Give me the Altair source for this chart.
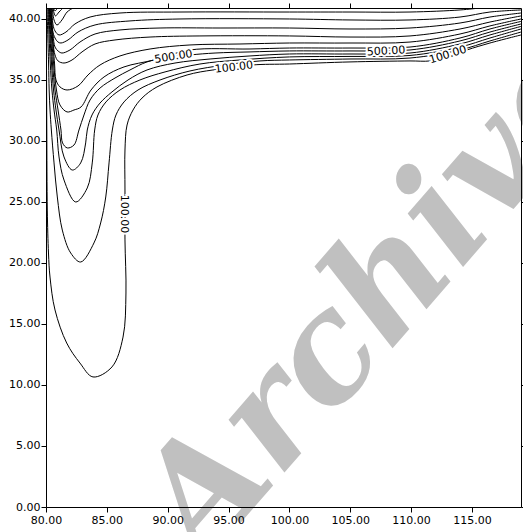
import altair as alt
import pandas as pd

# ---- contour polylines (data coordinates) ----
C0_X = [80.016, 80.04, 80.066, 80.107, 80.205, 80.329, 80.74, 81.70, 82.79, 83.86, 85.42, 86.33, 86.57, 86.49, 86.49, 86.49, 86.66, 87.15, 87.89, 89.12, 91.59, 93.72, 95.53, 97.01, 100.0, 104.98, 109.91, 111.55, 113.03, 114.59, 116.48, 119.03]
C0_Y = [40.9, 36.39, 30.9, 24.34, 20.82, 18.85, 16.15, 13.44, 11.80, 10.66, 11.48, 13.93, 17.54, 21.89, 25.98, 29.26, 31.31, 32.54, 33.52, 34.43, 35.41, 35.82, 35.98, 36.23, 36.31, 36.48, 36.56, 36.56, 36.89, 37.46, 38.03, 38.69]

C1_X = [80.08, 80.21, 80.26, 80.33, 80.44, 80.66, 80.93, 81.34, 82.03, 82.85, 83.94, 84.49, 84.91, 85.18, 85.45, 85.75, 86.41, 87.56, 89.37, 91.83, 94.71, 97.58, 100.0, 104.98, 109.91, 114.02, 116.48, 119.03]
C1_Y = [40.9, 36.39, 34.18, 32.54, 30.9, 28.2, 25.41, 22.70, 20.82, 20.08, 21.64, 23.28, 25.41, 28.2, 30.9, 32.13, 33.2, 34.18, 35.0, 35.74, 36.23, 36.56, 36.64, 36.72, 36.80, 37.46, 38.20, 38.93]

C2_X = [80.16, 80.35, 80.49, 80.66, 80.88, 81.07, 81.48, 82.44, 83.39, 83.80, 84.0, 84.27, 84.93, 86.08, 87.72, 89.78, 92.65, 95.94, 100.0, 104.98, 109.91, 114.02, 116.48, 119.03]
C2_Y = [40.9, 36.39, 34.18, 32.54, 30.9, 28.69, 26.8, 25.0, 26.15, 28.2, 30.9, 32.13, 33.2, 34.18, 35.0, 35.66, 36.31, 36.64, 36.89, 36.93, 37.01, 37.70, 38.44, 39.18]

C3_X = [80.21, 80.45, 80.62, 80.82, 81.07, 81.48, 82.16, 82.85, 83.26, 83.39, 83.78, 84.44, 85.42, 86.74, 88.30, 90.60, 93.48, 96.76, 100.0, 104.98, 109.91, 114.02, 116.48, 119.03]
C3_Y = [40.9, 36.39, 34.18, 32.54, 30.9, 28.69, 27.62, 28.2, 29.84, 30.9, 32.13, 33.11, 34.02, 35.0, 35.82, 36.39, 36.72, 36.97, 37.13, 37.13, 37.21, 37.95, 38.69, 39.39]

C4_X = [80.25, 80.53, 80.74, 80.99, 81.23, 81.36, 81.75, 82.30, 82.71, 83.12, 83.62, 84.44, 85.67, 86.90, 88.30, 89.78, 91.83, 93.89, 96.76, 100.0, 104.98, 109.91, 114.02, 116.48, 119.03]
C4_Y = [40.9, 36.39, 34.18, 32.54, 30.9, 29.84, 29.43, 29.67, 30.9, 32.13, 33.36, 34.34, 35.16, 35.82, 36.48, 36.80, 37.05, 37.21, 37.30, 37.38, 37.38, 37.46, 38.20, 38.93, 39.59]

C5_X = [80.28, 80.62, 80.86, 81.15, 81.73, 82.30, 82.88, 83.70, 84.77, 86.41, 88.87, 91.83, 96.76, 100.0, 104.98, 109.91, 114.02, 116.48, 119.03]
C5_Y = [40.9, 36.39, 34.18, 32.95, 32.38, 32.54, 32.79, 34.18, 35.25, 36.07, 36.64, 37.46, 37.54, 37.62, 37.62, 37.70, 38.44, 39.18, 39.80]

C6_X = [80.31, 80.70, 80.82, 81.15, 81.73, 82.63, 83.45, 84.44, 86.08, 88.55, 91.83, 95.94, 100.0, 104.98, 109.91, 114.02, 116.48, 119.03]
C6_Y = [40.9, 36.39, 35.0, 34.43, 34.18, 34.51, 35.41, 36.23, 36.97, 37.54, 37.87, 37.95, 38.03, 38.03, 38.11, 38.77, 39.43, 40.0]

C7_X = [80.35, 80.58, 80.74, 80.99, 81.48, 82.14, 82.96, 84.03, 85.67, 88.55, 92.65, 100.0, 104.98, 109.91, 114.02, 116.48, 119.03]
C7_Y = [40.9, 38.03, 37.05, 36.56, 36.39, 36.64, 37.30, 37.95, 38.28, 38.52, 38.61, 38.61, 38.52, 38.61, 39.18, 39.75, 40.25]

C8_X = [80.39, 80.58, 80.74, 80.99, 81.31, 81.97, 82.79, 84.03, 86.08, 89.37, 94.30, 100.0, 104.98, 109.91, 114.02, 116.48, 119.03]
C8_Y = [40.9, 38.69, 37.70, 37.38, 37.21, 37.46, 38.11, 38.77, 39.10, 39.26, 39.26, 39.26, 39.18, 39.26, 39.67, 40.16, 40.49]

C9_X = [80.43, 80.53, 80.74, 80.99, 81.23, 81.81, 82.63, 84.03, 86.90, 91.01, 100.0, 104.98, 109.91, 114.02, 116.48, 119.03]
C9_Y = [40.9, 39.10, 38.44, 38.11, 38.03, 38.28, 38.93, 39.51, 39.84, 40.0, 40.0, 39.92, 39.92, 40.16, 40.57, 40.74]

C10_X = [80.47, 80.58, 80.74, 81.07, 81.64, 82.38, 83.62, 86.08, 91.01, 100.0, 104.98, 109.91, 114.02, 115.66]
C10_Y = [40.9, 39.51, 39.02, 38.69, 38.93, 39.59, 40.16, 40.49, 40.57, 40.57, 40.57, 40.57, 40.74, 40.9]

T0_X = [80.52, 80.66, 80.90, 81.31, 81.73, 82.22]
T0_Y = [40.9, 39.92, 39.51, 39.92, 40.57, 40.9]

T1_X = [80.58, 80.66, 80.78, 81.07, 81.40]
T1_Y = [40.9, 40.49, 40.25, 40.57, 40.9]

T2_X = [80.62, 80.74, 80.95]
T2_Y = [40.9, 40.66, 40.9]

CURVES = [(C0_X, C0_Y), (C1_X, C1_Y), (C2_X, C2_Y), (C3_X, C3_Y), (C4_X, C4_Y),
          (C5_X, C5_Y), (C6_X, C6_Y), (C7_X, C7_Y), (C8_X, C8_Y), (C9_X, C9_Y),
          (C10_X, C10_Y), (T0_X, T0_Y), (T1_X, T1_Y), (T2_X, T2_Y)]

# contour labels
LABEL_TEXT = ["500.00", "100.00", "500.00", "100.00", "100.00"]
LABEL_X = [90.48, 95.45, 107.94, 113.03, 86.37]
LABEL_Y = [36.89, 36.02, 37.34, 37.05, 24.02]
LABEL_ANGLE = [351, 353, 357, 343, 90]

X_TICKS = [80, 85, 90, 95, 100, 105, 110, 115]
Y_TICKS = [0, 5, 10, 15, 20, 25, 30, 35, 40]
X_DOMAIN = [80, 119.03]
Y_DOMAIN = [0, 40.9]

rows = []
for cid, (xs, ys) in enumerate(CURVES):
    for i, (x, y) in enumerate(zip(xs, ys)):
        rows.append({"curve": cid, "i": i, "x": x, "y": y})
df = pd.DataFrame(rows)

labels = pd.DataFrame({"text": LABEL_TEXT, "x": LABEL_X, "y": LABEL_Y, "angle": LABEL_ANGLE})

xscale = alt.Scale(domain=X_DOMAIN, nice=False, zero=False)
yscale = alt.Scale(domain=Y_DOMAIN, nice=False, zero=False)

axis_common = dict(grid=False, title=None, domainColor="black", tickColor="black",
                   tickSize=5, labelColor="black", labelFont="DejaVu Sans",
                   labelFontSize=11, format=".2f", zindex=1, domainWidth=1,
                   tickWidth=1, labelFlush=False, labelOverlap=False)

wm = alt.Chart(pd.DataFrame({"t": ["Archive"]})).mark_text(
    font="DejaVu Serif",
    fontWeight="bold", fontStyle="italic", fontSize=148,
    color="#c0c0c0", angle=311, align="center", baseline="middle"
).encode(text="t:N", x=alt.value(330), y=alt.value(292))

lines = alt.Chart(df).mark_line(color="black", strokeWidth=1, clip=True,
                                interpolate="catmull-rom").encode(
    x=alt.X("x:Q", scale=xscale,
            axis=alt.Axis(values=X_TICKS, labelPadding=2, **axis_common)),
    y=alt.Y("y:Q", scale=yscale,
            axis=alt.Axis(values=Y_TICKS, labelPadding=1, **axis_common)),
    detail="curve:N",
    order="i:Q",
)

frame = alt.Chart(df).mark_point(opacity=0).encode(
    x=alt.X("x:Q", scale=xscale,
            axis=alt.Axis(orient="top", values=X_TICKS, labels=False, **axis_common)),
    y=alt.Y("y:Q", scale=yscale,
            axis=alt.Axis(orient="right", values=Y_TICKS, labels=False, **axis_common)),
)

halo = alt.Chart(labels).mark_text(
    font="DejaVu Sans", fontSize=11, color="white", stroke="white", strokeWidth=4
).encode(x=alt.X("x:Q", scale=xscale, axis=None),
         y=alt.Y("y:Q", scale=yscale, axis=None),
         text="text:N", angle=alt.Angle("angle:Q", scale=None))

txt = alt.Chart(labels).mark_text(
    font="DejaVu Sans", fontSize=11, color="black"
).encode(x=alt.X("x:Q", scale=xscale, axis=None),
         y=alt.Y("y:Q", scale=yscale, axis=None),
         text="text:N", angle=alt.Angle("angle:Q", scale=None))

chart = alt.layer(wm, lines, frame, halo, txt).resolve_axis(
    x="independent", y="independent"
).properties(
    width=475, height=499,
    autosize=alt.AutoSizeParams(type="none"),
    padding={"left": 46, "top": 8, "right": 2, "bottom": 25},
).configure_view(stroke=None)

chart.save("out.html", embed_options={"renderer": "svg", "actions": False})
